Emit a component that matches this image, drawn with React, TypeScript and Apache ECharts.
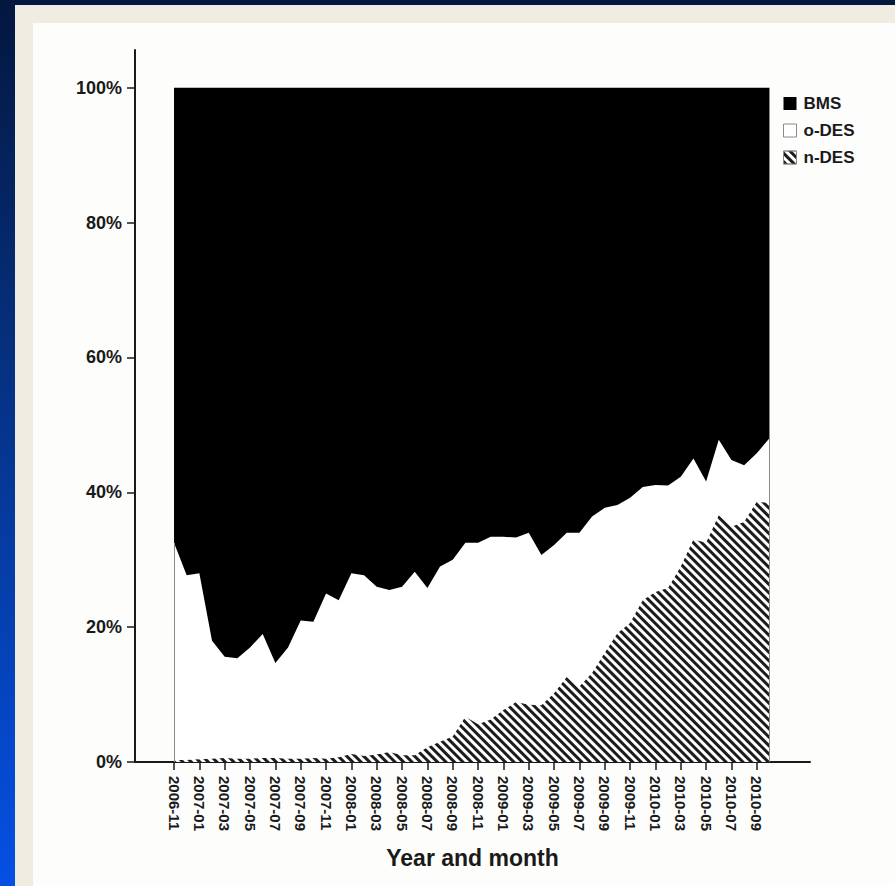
import React, { useEffect, useRef } from 'react';
import * as echarts from 'echarts';

const months = [
  '2006-11', '2006-12', '2007-01', '2007-02', '2007-03', '2007-04', '2007-05', '2007-06',
  '2007-07', '2007-08', '2007-09', '2007-10', '2007-11', '2007-12', '2008-01', '2008-02',
  '2008-03', '2008-04', '2008-05', '2008-06', '2008-07', '2008-08', '2008-09', '2008-10',
  '2008-11', '2008-12', '2009-01', '2009-02', '2009-03', '2009-04', '2009-05', '2009-06',
  '2009-07', '2009-08', '2009-09', '2009-10', '2009-11', '2009-12', '2010-01', '2010-02',
  '2010-03', '2010-04', '2010-05', '2010-06', '2010-07', '2010-08', '2010-09', '2010-10',
];

const nDES = [
  0.3, 0.3, 0.4, 0.5, 0.6, 0.5, 0.5, 0.6, 0.6, 0.5, 0.5, 0.6, 0.5, 0.7, 1.2, 0.9,
  1.1, 1.5, 1.0, 1.0, 2.2, 3.0, 3.8, 6.7, 5.6, 6.3, 7.7, 8.9, 8.5, 8.4, 10.2, 12.6,
  11.2, 13.2, 16.2, 19.1, 20.6, 24.0, 25.2, 25.8, 29.0, 33.0, 32.5, 36.6, 34.9, 35.6, 38.6, 38.4,
];

const oDES = [
  32.2, 27.4, 27.6, 17.5, 15.0, 14.9, 16.5, 18.4, 14.1, 16.5, 20.5, 20.2, 24.5, 23.3, 26.8, 26.8,
  24.9, 24.0, 25.0, 27.2, 23.6, 26.0, 26.2, 25.8, 26.9, 27.1, 25.7, 24.4, 25.5, 22.3, 22.0, 21.4,
  22.8, 23.2, 21.5, 19.0, 18.6, 16.8, 15.9, 15.2, 13.3, 12.0, 9.1, 11.2, 9.9, 8.4, 7.2, 9.6,
];

const BMS = [
  67.5, 72.3, 72.0, 82.0, 84.4, 84.6, 83.0, 81.0, 85.3, 83.0, 79.0, 79.2, 75.0, 76.0, 72.0, 72.3,
  74.0, 74.5, 74.0, 71.8, 74.2, 71.0, 70.0, 67.5, 67.5, 66.6, 66.6, 66.7, 66.0, 69.3, 67.8, 66.0,
  66.0, 63.6, 62.3, 61.9, 60.8, 59.2, 58.9, 59.0, 57.7, 55.0, 58.4, 52.2, 55.2, 56.0, 54.2, 52.0,
];

const yTicks = [0, 20, 40, 60, 80, 100];

export default function App() {
  const ref = useRef<HTMLDivElement>(null);

  useEffect(() => {
    if (!ref.current) return;
    const chart = echarts.init(ref.current, null, { renderer: 'svg' });
    const font = '"Liberation Sans", Arial, Helvetica, sans-serif';
    const xTicks = months.map((_, i) => i).filter((i) => i % 2 === 0);
    const last = months.length - 1;
    // cumulative tops (stack computed explicitly, bottom layer first)
    const cumN = nDES.map((v) => v);
    const cumO = nDES.map((v, i) => v + oDES[i]);
    const cumB = nDES.map((v, i) => v + oDES[i] + BMS[i]);
    const hatch: any = {
      symbol: 'rect',
      symbolSize: 1,
      color: '#1c1c1c',
      dashArrayX: [1, 0],
      dashArrayY: [2.4, 2.6],
      rotation: Math.PI / 4,
    };

    const option: any = {
      animation: false,
      graphic: [
        {
          type: 'rect',
          z: -10,
          silent: true,
          shape: { x: 15, y: 5, width: 880, height: 881 },
          style: { fill: '#efece2' },
        },
        {
          type: 'rect',
          z: -9,
          silent: true,
          shape: { x: 33, y: 23, width: 862, height: 863 },
          style: { fill: '#fdfdfc' },
        },
      ],
      grid: { left: 135, right: 85, top: 50, bottom: 124 },
      legend: {
        orient: 'vertical',
        left: 778,
        top: 90,
        icon: 'rect',
        itemWidth: 13,
        itemHeight: 13,
        itemGap: 10,
        selectedMode: false,
        textStyle: { fontFamily: font, fontWeight: 'bold', fontSize: 17, color: '#1a1a1a', padding: [0, 0, 0, 2] },
        data: [
          { name: 'BMS', itemStyle: { color: '#000000' } },
          { name: 'o-DES', itemStyle: { color: '#ffffff', borderColor: '#8a8a8a', borderWidth: 1 } },
          { name: 'n-DES', itemStyle: { color: '#ffffff', decal: hatch, borderColor: '#8a8a8a', borderWidth: 1 } },
        ],
      },
      xAxis: {
        type: 'value',
        min: -3.08,
        max: 50.2,
        name: 'Year and month',
        nameLocation: 'middle',
        nameGap: 84,
        nameTextStyle: { fontFamily: font, fontWeight: 'bold', fontSize: 23, color: '#1a1a1a' },
        axisLine: { show: true, onZero: false, lineStyle: { color: '#1a1a1a', width: 2 } },
        axisTick: { show: true, customValues: xTicks, length: 8, lineStyle: { color: '#1a1a1a', width: 1.5 } },
        axisLabel: {
          show: true,
          customValues: xTicks,
          rotate: -90,
          margin: 14,
          fontFamily: font,
          fontWeight: 'bold',
          fontSize: 15,
          color: '#1a1a1a',
          formatter: (v: number) => months[Math.round(v)] ?? '',
        },
        splitLine: { show: false },
      },
      yAxis: {
        type: 'value',
        min: 0,
        max: 105.6,
        axisLine: { show: true, onZero: false, lineStyle: { color: '#1a1a1a', width: 2 } },
        axisTick: { show: true, customValues: yTicks, length: 8, lineStyle: { color: '#1a1a1a', width: 1.5 } },
        axisLabel: {
          show: true,
          customValues: yTicks,
          margin: 13,
          fontFamily: font,
          fontWeight: 'bold',
          fontSize: 18,
          color: '#1a1a1a',
          formatter: (v: number) => `${v}%`,
        },
        splitLine: { show: false },
      },
      series: [
        {
          name: 'BMS',
          type: 'line',
          symbol: 'none',
          data: cumB.map((v, i) => [i, v]),
          lineStyle: { width: 0 },
          itemStyle: { color: '#000000' },
          areaStyle: { color: '#000000', opacity: 1 },
        },
        {
          name: 'o-DES',
          type: 'line',
          symbol: 'none',
          data: cumO.map((v, i) => [i, v]),
          lineStyle: { width: 0 },
          itemStyle: { color: '#ffffff' },
          areaStyle: { color: '#ffffff', opacity: 1 },
          markLine: {
            silent: true,
            symbol: 'none',
            label: { show: false },
            lineStyle: { color: '#8a8a8a', width: 1, type: 'solid' },
            data: [
              [{ coord: [0, 0] }, { coord: [0, cumO[0]] }],
              [{ coord: [last, 0] }, { coord: [last, cumO[last]] }],
            ],
          },
        },
        {
          name: 'n-DES',
          type: 'line',
          symbol: 'none',
          data: cumN.map((v, i) => [i, v]),
          lineStyle: { width: 0 },
          itemStyle: { color: '#ffffff', decal: hatch },
          areaStyle: { color: '#ffffff', opacity: 1 },
        },
      ],
    };

    chart.setOption(option);
    return () => {
      chart.dispose();
    };
  }, []);

  return (
    <div
      style={{
        position: 'fixed',
        left: 0,
        top: 0,
        width: 895,
        height: 886,
        background: 'linear-gradient(180deg, #03173f 0%, #06307f 40%, #0550e4 100%)',
      }}
    >
      <div ref={ref} style={{ width: 895, height: 886 }} />
    </div>
  );
}
